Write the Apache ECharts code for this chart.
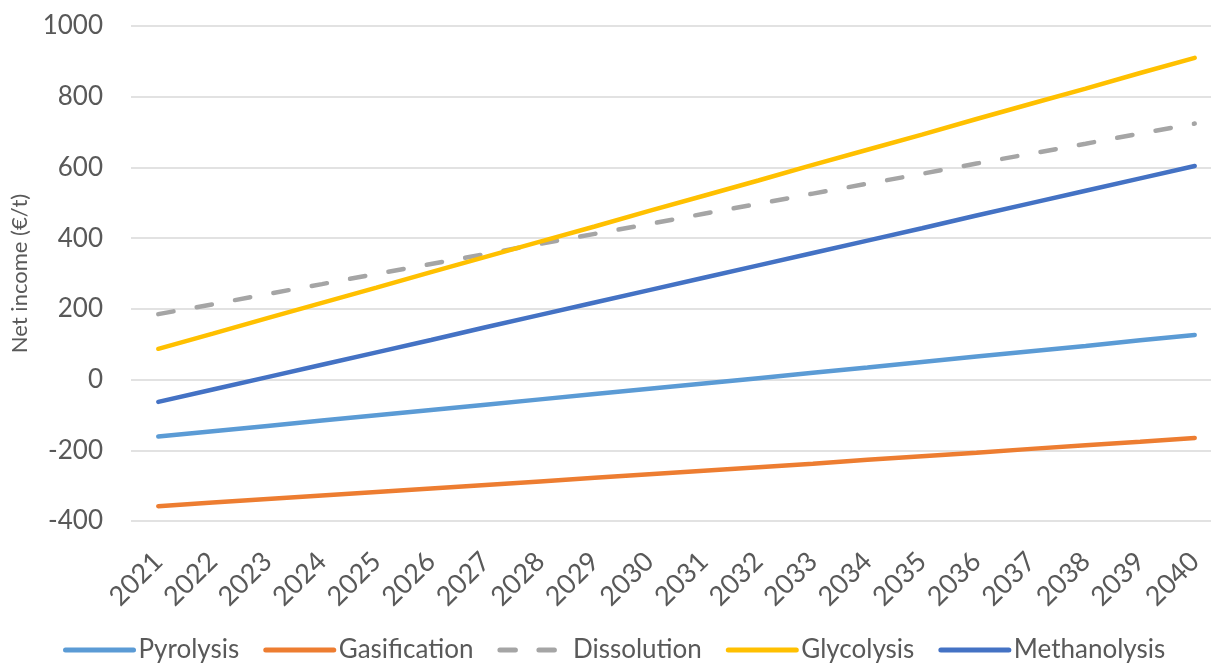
<!DOCTYPE html>
<html>
<head>
<meta charset="utf-8">
<script src="https://cdn.jsdelivr.net/npm/echarts@6/dist/echarts.min.js"></script>
<style>
html,body{margin:0;padding:0;background:#fff;overflow:hidden;width:1211px;height:664px;}
#chart{width:1222px;height:664px;}
</style>
</head>
<body>
<div id="chart"></div>
<script>
const years = ['2021','2022','2023','2024','2025','2026','2027','2028','2029','2030','2031','2032','2033','2034','2035','2036','2037','2038','2039','2040'];
const pyrolysis = [-161,-146,-131,-116,-101,-86,-71,-56,-41,-26,-11,4,19,34,50,65,80,95,111,126];
const gasification = [-358,-348,-338,-328,-318,-308,-298,-288,-278,-268,-258,-248,-238,-227,-217,-207,-196,-186,-176,-165];
const dissolution = [185,213,242,270,299,327,355,384,412,440,469,497,526,554,582,611,639,667,696,724];
const glycolysis = [87,130,174,217,260,304,347,390,433,477,520,563,607,650,693,737,780,823,867,910];
const methanolysis = [-63,-28,7,42,77,112,148,183,218,253,288,323,358,393,428,464,499,534,569,604];
const yTicks = [-400,-200,0,200,400,600,800,1000];

const FONT = 'Lato';
const TXT = '#595959';

function mk(name, data, color, dashed) {
  return {
    name: name, type: 'line', data: data, symbol: 'none', smooth: false,
    lineStyle: dashed ? {color: color, width: 4.5, type: [15.5, 23.5], cap: 'round'} : {color: color, width: 4.5, cap: 'round'},
    itemStyle: {color: color}
  };
}

const chart = echarts.init(document.getElementById('chart'));
chart.setOption({
  animation: false,
  backgroundColor: '#fff',
  grid: {left: 131, right: 0, top: 26, bottom: 143, containLabel: false},
  xAxis: {
    type: 'category', data: years, boundaryGap: true,
    axisLine: {show: false}, axisTick: {show: false},
    axisLabel: {rotate: 45, margin: 36, color: TXT, fontFamily: FONT, fontSize: 27, interval: 0}
  },
  yAxis: {
    type: 'value', min: yTicks[0], max: yTicks[yTicks.length-1], interval: 200,
    name: 'Net income (€/t)', nameLocation: 'middle', nameGap: 100, nameRotate: 90,
    nameTextStyle: {color: TXT, fontFamily: FONT, fontSize: 22},
    axisLine: {show: false}, axisTick: {show: false},
    splitLine: {lineStyle: {color: '#d9d9d9', width: 1.5}},
    axisLabel: {margin: 28, color: TXT, fontFamily: FONT, fontSize: 26, formatter: function(v){ return String(v); }}
  },
  legend: {
    top: 632, left: 58, itemWidth: 68, itemHeight: 10, itemGap: 24,
    itemStyle: {opacity: 0},
    lineStyle: {width: 5, cap: 'round'},
    textStyle: {color: TXT, fontFamily: FONT, fontSize: 26},
    data: ['Pyrolysis','Gasification','Dissolution','Glycolysis','Methanolysis']
  },
  series: [
    mk('Pyrolysis', pyrolysis, '#5B9BD5'),
    mk('Gasification', gasification, '#ED7D31'),
    mk('Dissolution', dissolution, '#A5A5A5', true),
    mk('Glycolysis', glycolysis, '#FFC000'),
    mk('Methanolysis', methanolysis, '#4472C4')
  ]
});
</script>
</body>
</html>
